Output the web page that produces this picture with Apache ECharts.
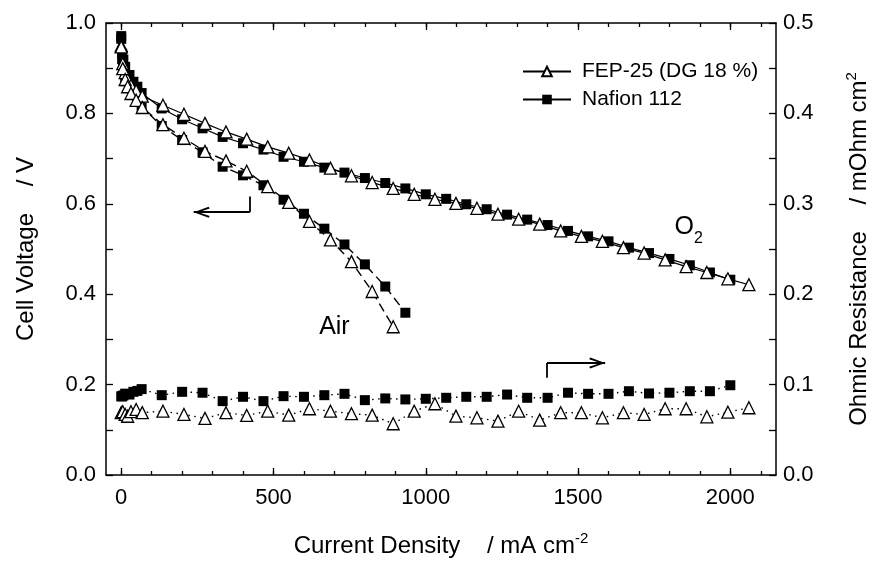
<!DOCTYPE html>
<html>
<head>
<meta charset="utf-8">
<script src="https://cdn.jsdelivr.net/npm/echarts@6/dist/echarts.min.js"></script>
<style>
  html, body { margin: 0; padding: 0; background: #fff; }
  #chart { width: 882px; height: 566px; }
</style>
</head>
<body>
<div id="chart"></div>
<script>
// current density, mA cm-2
const nafionJ = [0, 3, 7, 13, 27, 40, 53, 67, 133, 200, 267, 333, 400, 467, 533, 600, 667, 733, 800, 867, 933,
  1000, 1067, 1133, 1200, 1267, 1333, 1400, 1467, 1533, 1600, 1667, 1733, 1800, 1867, 1933, 2000];
const fepJ = [0, 5, 13, 21, 32, 49, 69, 137, 206, 275, 344, 412, 481, 550, 618, 687, 756, 824, 893,
  962, 1030, 1099, 1168, 1237, 1305, 1374, 1443, 1511, 1580, 1649, 1717, 1786, 1855, 1923, 1992, 2061];

// cell voltage, V (O2)
const nafionO2 = [0.971, 0.932, 0.919, 0.903, 0.885, 0.870, 0.859, 0.845, 0.811, 0.787, 0.767, 0.748, 0.734, 0.720,
  0.704, 0.693, 0.680, 0.669, 0.657, 0.646, 0.634, 0.621, 0.611, 0.599, 0.588, 0.576, 0.565, 0.553, 0.540, 0.528,
  0.517, 0.503, 0.491, 0.478, 0.464, 0.448, 0.432];
const fepO2 = [0.950, 0.910, 0.890, 0.875, 0.862, 0.850, 0.838, 0.818, 0.798, 0.778, 0.759, 0.743, 0.726, 0.712,
  0.697, 0.679, 0.662, 0.647, 0.634, 0.621, 0.610, 0.601, 0.590, 0.577, 0.566, 0.555, 0.540, 0.528, 0.517, 0.503,
  0.491, 0.476, 0.461, 0.448, 0.434, 0.421];

// cell voltage, V (air)
const nafionAir = [0.965, 0.920, 0.900, 0.880, 0.860, 0.845, 0.830, 0.815, 0.772, 0.741, 0.714, 0.682, 0.663, 0.641,
  0.609, 0.578, 0.545, 0.510, 0.466, 0.417, 0.359];
const fepAir = [0.947, 0.899, 0.875, 0.859, 0.844, 0.829, 0.813, 0.775, 0.745, 0.716, 0.695, 0.672, 0.638, 0.603,
  0.561, 0.520, 0.472, 0.406, 0.328];

// ohmic resistance, mOhm cm2
const nafionR = [0.087, 0.087, 0.088, 0.090, 0.089, 0.092, 0.093, 0.095, 0.0883, 0.092, 0.091, 0.0817, 0.0865, 0.0817,
  0.0872, 0.0865, 0.0883, 0.0898, 0.0828, 0.0847, 0.0836, 0.0843, 0.0854, 0.0865, 0.0865, 0.089, 0.0854, 0.0854,
  0.091, 0.0898, 0.0898, 0.0927, 0.0902, 0.091, 0.0927, 0.0927, 0.0993];
const fepR = [0.069, 0.070, 0.067, 0.065, 0.070, 0.0725, 0.069, 0.0706, 0.067, 0.0626, 0.0689, 0.0659, 0.0706, 0.0662,
  0.0733, 0.0706, 0.0678, 0.0662, 0.0567, 0.0706, 0.0788, 0.0651, 0.0633, 0.0596, 0.0706, 0.0607, 0.0689, 0.0689,
  0.0633, 0.0689, 0.067, 0.0733, 0.0733, 0.0644, 0.0695, 0.0744];

const xMajor = [0, 500, 1000, 1500, 2000];
const xMinor = [0, 100, 200, 300, 400, 500, 600, 700, 800, 900, 1000, 1100, 1200, 1300, 1400, 1500, 1600, 1700,
  1800, 1900, 2000, 2100];

// annotation arrows (left-axis units) and labels
const leftArrow = [[422, 0.616], [422, 0.5815], [238, 0.5815]];
const rightArrow = [[1398, 0.215], [1398, 0.248], [1589, 0.248]];
const airLabel = [700, 0.327];
const o2Label = [1849, 0.548];
const o2Sub = [1895, 0.524];

const FEP = 'FEP-25 (DG 18 %)';
const NAF = 'Nafion 112';
const font = "'Liberation Sans', Arial, sans-serif";

const zip = (xs, ys) => ys.map((y, i) => [xs[i], y]);

// open arrow head, tip in the middle of the box
const chevron = 'path://M5,0 L10,14 L8.4,15 L5,4.5 L1.6,15 L0,14 Z M5,-15 L5.01,-15 L5,-14.99 Z';

function makeSeries(name, xs, ys, axis, symbol, lineType) {
  const tri = symbol === 'triangle';
  return {
    name: name,
    type: 'line',
    yAxisIndex: axis,
    data: zip(xs, ys),
    symbol: symbol,
    symbolSize: tri ? 12 : 10,
    showAllSymbol: true,
    z: tri ? 4 : 3,
    lineStyle: { color: '#000', width: lineType === 'solid' ? 1.2 : 1.4, type: lineType },
    itemStyle: { color: tri ? '#fff' : '#000', borderColor: '#000', borderWidth: tri ? 1.3 : 0 },
    emphasis: { disabled: true }
  };
}

const chart = echarts.init(document.getElementById('chart'));

const tickStyle = { color: '#000', width: 1.3 };
const xBase = { type: 'value', min: -50, max: 2150, gridIndex: 0, splitLine: { show: false } };
const supStyle = { fontSize: 15, lineHeight: 15, verticalAlign: 'top', color: '#000', fontFamily: font };

chart.setOption({
  animation: false,
  backgroundColor: '#fff',
  textStyle: { fontFamily: font, color: '#000' },
  grid: { left: 106, right: 96, top: 23, bottom: 90 },
  legend: {
    orient: 'vertical',
    left: 517,
    top: 56,
    itemWidth: 48,
    itemHeight: 12,
    itemGap: 7,
    data: [FEP, NAF],
    textStyle: { fontSize: 21, color: '#000', fontFamily: font, padding: [0, 0, 0, 6] }
  },
  xAxis: [
    Object.assign({}, xBase, {
      position: 'bottom',
      axisLine: { onZero: false, lineStyle: { color: '#000', width: 1.5 } },
      axisTick: { inside: true, length: 7, customValues: xMajor, lineStyle: tickStyle },
      axisLabel: { customValues: xMajor, fontSize: 22, margin: 12, color: '#000', fontFamily: font,
        formatter: v => String(v) },
      name: 'Current Density    / mA cm{sup|-2}',
      nameLocation: 'middle',
      nameGap: 56,
      nameTextStyle: { fontSize: 24, lineHeight: 30, color: '#000', fontFamily: font, rich: { sup: supStyle } }
    }),
    Object.assign({}, xBase, {
      position: 'bottom',
      axisLine: { show: false, onZero: false },
      axisTick: { inside: true, length: 4, customValues: xMinor, lineStyle: tickStyle },
      axisLabel: { show: false }
    }),
    Object.assign({}, xBase, {
      position: 'top',
      axisLine: { onZero: false, lineStyle: { color: '#000', width: 1.5 } },
      axisTick: { inside: true, length: 7, customValues: xMajor, lineStyle: tickStyle },
      axisLabel: { show: false }
    }),
    Object.assign({}, xBase, {
      position: 'top',
      axisLine: { show: false, onZero: false },
      axisTick: { inside: true, length: 4, customValues: xMinor, lineStyle: tickStyle },
      axisLabel: { show: false }
    })
  ],
  yAxis: [
    {
      type: 'value',
      position: 'left',
      min: 0,
      max: 1,
      interval: 0.1,
      splitLine: { show: false },
      axisLine: { show: true, onZero: false, lineStyle: { color: '#000', width: 1.5 } },
      axisTick: { show: true, inside: true, length: 7, lineStyle: tickStyle },
      axisLabel: {
        fontSize: 22, margin: 10, color: '#000', fontFamily: font,
        formatter: v => { const k = Math.round(v * 10); return k % 2 === 0 ? (k / 10).toFixed(1) : ''; }
      },
      name: 'Cell Voltage    / V',
      nameLocation: 'middle',
      nameGap: 68,
      nameTextStyle: { fontSize: 24, color: '#000', fontFamily: font }
    },
    {
      type: 'value',
      position: 'right',
      min: 0,
      max: 0.5,
      interval: 0.05,
      splitLine: { show: false },
      axisLine: { show: true, onZero: false, lineStyle: { color: '#000', width: 1.5 } },
      axisTick: { show: true, inside: true, length: 7, lineStyle: tickStyle },
      axisLabel: {
        fontSize: 22, margin: 7, color: '#000', fontFamily: font,
        formatter: v => { const k = Math.round(v * 20); return k % 2 === 0 ? (k / 20).toFixed(1) : ''; }
      },
      name: 'Ohmic Resistance    / mOhm cm{sup|2}',
      nameLocation: 'middle',
      nameGap: 68,
      nameTextStyle: { fontSize: 24, lineHeight: 30, color: '#000', fontFamily: font, rich: { sup: supStyle } }
    }
  ],
  series: [
    makeSeries(NAF, nafionJ, nafionO2, 0, 'rect', 'solid'),
    makeSeries(NAF, nafionJ, nafionAir, 0, 'rect', [9, 5]),
    makeSeries(NAF, nafionJ, nafionR, 1, 'rect', [1.5, 4.5]),
    makeSeries(FEP, fepJ, fepO2, 0, 'triangle', 'solid'),
    makeSeries(FEP, fepJ, fepAir, 0, 'triangle', [9, 5]),
    makeSeries(FEP, fepJ, fepR, 1, 'triangle', [1.5, 4.5]),
    {
      name: 'notes',
      type: 'line',
      yAxisIndex: 0,
      data: [],
      silent: true,
      markLine: {
        silent: true,
        animation: false,
        label: { show: false },
        lineStyle: { color: '#000', width: 1.8, type: 'solid' },
        symbol: ['none', 'none'],
        data: [
          [{ coord: leftArrow[0] }, { coord: leftArrow[1] }],
          [{ coord: leftArrow[1] }, { coord: leftArrow[2], symbol: chevron, symbolSize: [11, 32] }],
          [{ coord: rightArrow[0] }, { coord: rightArrow[1] }],
          [{ coord: rightArrow[1] }, { coord: rightArrow[2], symbol: chevron, symbolSize: [11, 32] }]
        ]
      },
      markPoint: {
        silent: true,
        animation: false,
        symbol: 'circle',
        symbolSize: 1,
        itemStyle: { color: 'rgba(0,0,0,0)' },
        label: { show: true, position: 'inside', color: '#000', fontFamily: font },
        data: [
          { coord: airLabel, label: { formatter: 'Air', fontSize: 25 } },
          { coord: o2Label, label: { formatter: 'O', fontSize: 25 } },
          { coord: o2Sub, label: { formatter: '2', fontSize: 16 } }
        ]
      }
    }
  ]
});
</script>
</body>
</html>
